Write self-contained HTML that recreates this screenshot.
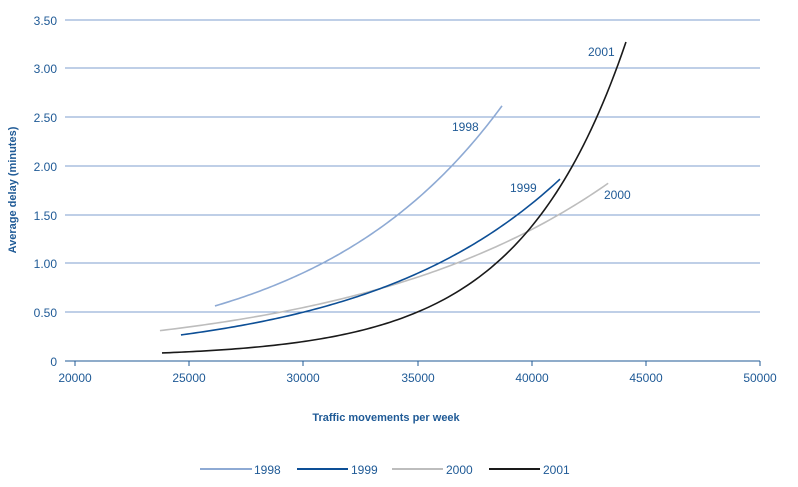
<!DOCTYPE html>
<html><head><meta charset="utf-8"><style>
html,body{margin:0;padding:0;background:#fff;}
svg{display:block;font-family:"Liberation Sans",Arial,sans-serif;}
</style></head><body>
<svg id="s" width="798" height="487" viewBox="0 0 798 487">
<g stroke="#7f9fcf" stroke-width="1">
<line x1="65" y1="20" x2="760" y2="20"/><line x1="65" y1="68" x2="760" y2="68"/>
<line x1="65" y1="117" x2="760" y2="117"/><line x1="65" y1="166" x2="760" y2="166"/>
<line x1="65" y1="215" x2="760" y2="215"/><line x1="65" y1="263" x2="760" y2="263"/>
<line x1="65" y1="312" x2="760" y2="312"/>
</g>
<g stroke="#1f5a96" stroke-width="1">
<line x1="65" y1="361" x2="760" y2="361"/>
<line x1="75" y1="361" x2="75" y2="366"/><line x1="189" y1="361" x2="189" y2="366"/>
<line x1="303" y1="361" x2="303" y2="366"/><line x1="418" y1="361" x2="418" y2="366"/>
<line x1="532" y1="361" x2="532" y2="366"/><line x1="646" y1="361" x2="646" y2="366"/>
<line x1="760" y1="361" x2="760" y2="366"/>
</g>
<g fill="#1f5a96" font-size="12" text-anchor="end">
<text x="57" y="25">3.50</text><text x="57" y="73">3.00</text><text x="57" y="122">2.50</text>
<text x="57" y="171">2.00</text><text x="57" y="220">1.50</text><text x="57" y="268">1.00</text>
<text x="57" y="317">0.50</text><text x="57" y="366">0</text>
</g>
<g fill="#1f5a96" font-size="12" text-anchor="middle">
<text x="75" y="382">20000</text><text x="189" y="382">25000</text><text x="303" y="382">30000</text>
<text x="418" y="382">35000</text><text x="532" y="382">40000</text><text x="646" y="382">45000</text>
<text x="760" y="382">50000</text>
</g>
<text x="386" y="421" fill="#1f5a96" font-size="11" font-weight="bold" text-anchor="middle">Traffic movements per week</text>
<text transform="translate(16,190) rotate(-90)" fill="#1f5a96" font-size="11" font-weight="bold" text-anchor="middle">Average delay (minutes)</text>
<g id="curves" fill="none" stroke-width="1.6"></g>
<g fill="#1f5a96" font-size="12">
<text x="452" y="131">1998</text><text x="510" y="192">1999</text>
<text x="604" y="199">2000</text><text x="588" y="56">2001</text>
</g>
<g stroke-width="2">
<line x1="200" y1="469" x2="252" y2="469" stroke="#8eaad4"/>
<line x1="297" y1="469" x2="348" y2="469" stroke="#0d4f96"/>
<line x1="392" y1="469" x2="443" y2="469" stroke="#bdbdbd"/>
<line x1="489" y1="469" x2="540" y2="469" stroke="#1a1a1a"/>
</g>
<g fill="#1f5a96" font-size="12">
<text x="254" y="474">1998</text><text x="351" y="474">1999</text>
<text x="446" y="474">2000</text><text x="543" y="474">2001</text>
</g>
</svg>
<script>
// [color, A, k, X0, C, Xstart, Xend]  v = A*exp(k*(X-X0))+C, X in thousands
var series=[
["#bdbdbd",1.01,0.09,36.78,0,23.72,43.35],
["#8eaad4",0.565,0.122,26.13,0,26.13,38.70],
["#0d4f96",1.01,0.117,35.99,0,24.64,41.24],
["#1a1a1a",1.0,0.213,38.62,0.04,23.81,44.13]
];
var g=document.getElementById("curves");
series.forEach(function(s){
 var d="",n=120;
 for(var i=0;i<=n;i++){
  var X=s[5]+(s[6]-s[5])*i/n;
  var v=s[1]*Math.exp(s[2]*(X-s[3]))+s[4];
  var px=75+(X-20)*22.833, py=361-v*97.43;
  d+=(i?"L":"M")+px.toFixed(2)+","+py.toFixed(2);
 }
 var e=document.createElementNS("http://www.w3.org/2000/svg","path");
 e.setAttribute("d",d);e.setAttribute("stroke",s[0]);g.appendChild(e);
});
</script>
</body></html>
